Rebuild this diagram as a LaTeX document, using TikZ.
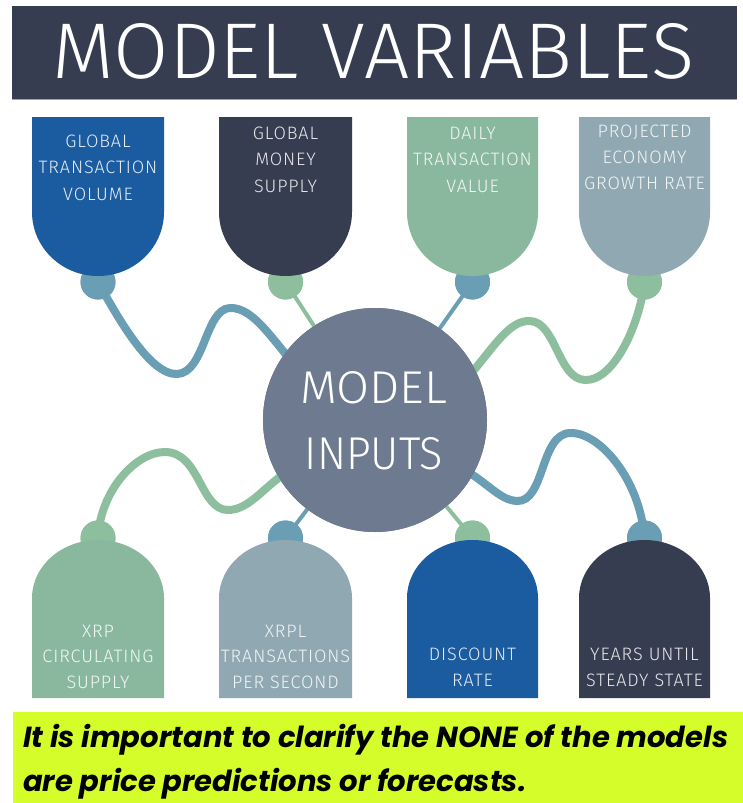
\documentclass[tikz,border=0pt]{standalone}
\usepackage{fontspec}
\usepackage{graphicx}
\setmainfont{Fira Sans}
\newfontfamily\lightfont{Fira Sans Light}
\newfontfamily\boxfont{Fira Sans Light}[LetterSpace=5]
\newfontfamily\popfont{Poppins}
\definecolor{navy}{HTML}{363D50}
\definecolor{dblue}{HTML}{1B5B9F}
\definecolor{sage}{HTML}{8AB89E}
\definecolor{slate}{HTML}{8FA8B2}
\definecolor{circ}{HTML}{6D7A8F}
\definecolor{teal}{HTML}{6A9EB4}
\definecolor{lgreen}{HTML}{8DBF9F}
\definecolor{lime}{HTML}{D4FD2A}
\definecolor{rule}{HTML}{9AA3B0}
\newsavebox\noteone
\begin{document}
\sbox\noteone{\popfont\bfseries\itshape It is important to clarify the NONE of the models}%
\begin{tikzpicture}[x=1pt,y=-1pt,
  knob/.style={circle,inner sep=0pt,minimum size=35pt,fill=#1},
  wave/.style={draw=#1,line width=8pt,line cap=round},
  stick/.style={draw=#1,line width=4pt,line cap=round},
  btxt/.style={anchor=base,inner sep=0pt,text=white!88!#1,font=\boxfont\fontsize{18}{20}\selectfont}]
\useasboundingbox (0,0) rectangle (743,803);
\fill[white] (0,0) rectangle (743,803);
% title bar
\node[fill=navy,anchor=north west,minimum width=725pt,minimum height=93pt,inner sep=0pt] (bar) at (12,6) {};
\draw[rule,line width=1.5pt] (bar.south west) -- (bar.south east);
\node[inner sep=0pt,text=white] (title) at (373.5,51.5) {\resizebox{641pt}{55pt}{\lightfont MODEL VARIABLES}};
% centre node
\node[circle,fill=circ,minimum size=224pt,inner sep=0pt] (mi) at (375,420) {};
% knobs
\node[knob=teal]   (k1) at (98,282) {};
\node[knob=lgreen] (k2) at (285.5,282) {};
\node[knob=teal]   (k3) at (472.5,282) {};
\node[knob=lgreen] (k4) at (644.5,282) {};
\node[knob=lgreen] (k5) at (98,538) {};
\node[knob=teal]   (k6) at (285.5,538) {};
\node[knob=lgreen] (k7) at (472.5,538) {};
\node[knob=teal]   (k8) at (644.5,538) {};
% connectors
\draw[wave=teal] (k1.center) .. controls (118,318) and (150,375) .. (177,374)
  .. controls (205,373) and (205,309) .. (230,308)
  .. controls (255,307) and (275,345) .. (300,370) -- (mi.center);
\draw[stick=lgreen] (k2.center) -- (mi.center);
\draw[stick=teal] (k3.center) -- (mi.center);
\draw[wave=lgreen] (k4.center) .. controls (640,322) and (615,381) .. (585,380)
  .. controls (558,379) and (556,322) .. (530,321)
  .. controls (510,320) and (495,345) .. (470,375) -- (mi.center);
\draw[wave=lgreen] (k5.center) .. controls (100,492) and (135,452) .. (165,452)
  .. controls (200,452) and (200,510) .. (228,510)
  .. controls (250,510) and (265,485) .. (290,470) -- (mi.center);
\draw[stick=teal] (k6.center) -- (mi.center);
\draw[stick=lgreen] (k7.center) -- (mi.center);
\draw[wave=teal] (k8.center) .. controls (640,480) and (600,432) .. (570,433)
  .. controls (540,434) and (545,502) .. (517,501)
  .. controls (500,500) and (490,485) .. (465,470) -- (mi.center);
% centre circle and knobs on top of connectors
\fill[circ] (mi.center) circle[radius=112];
\foreach \k/\c in {k1/teal,k2/lgreen,k3/teal,k4/lgreen,k5/lgreen,k6/teal,k7/lgreen,k8/teal}
  \fill[\c] (\k.center) circle[radius=17.5];
% top shields
\fill[dblue] (32,117) -- (164,117) -- (164,212) arc[start angle=0,end angle=180,x radius=66,y radius=64] -- cycle;
\fill[navy]  (219,117) -- (352,117) -- (352,212) arc[start angle=0,end angle=180,x radius=66.5,y radius=64] -- cycle;
\fill[sage]  (407,117) -- (538,117) -- (538,212) arc[start angle=0,end angle=180,x radius=65.5,y radius=64] -- cycle;
\fill[slate] (579,117) -- (710,117) -- (710,212) arc[start angle=0,end angle=180,x radius=65.5,y radius=64] -- cycle;
% bottom domes
\fill[sage]  (32,698) -- (32,598) arc[start angle=180,end angle=360,x radius=66,y radius=58] -- (164,698) -- cycle;
\fill[slate] (219,698) -- (219,598) arc[start angle=180,end angle=360,x radius=66.5,y radius=58] -- (352,698) -- cycle;
\fill[dblue] (407,698) -- (407,598) arc[start angle=180,end angle=360,x radius=65.5,y radius=58] -- (538,698) -- cycle;
\fill[navy]  (579,698) -- (579,598) arc[start angle=180,end angle=360,x radius=65.5,y radius=58] -- (710,698) -- cycle;
% centre text
\node[inner sep=0pt,text=white] (mt1) at (373.5,387.5) {\resizebox{147pt}{32pt}{\lightfont MODEL}};
\node[inner sep=0pt,text=white] (mt2) at (374,454) {\resizebox{138pt}{32pt}{\lightfont INPUTS}};
% box texts top
\node[btxt=dblue] (a1) at (98,147) {GLOBAL};
\node[btxt=dblue] (a2) at (98,173.5) {TRANSACTION};
\node[btxt=dblue] (a3) at (98,200) {VOLUME};
\node[btxt=navy] (b1) at (285.5,139) {GLOBAL};
\node[btxt=navy] (b2) at (285.5,165.5) {MONEY};
\node[btxt=navy] (b3) at (285.5,192) {SUPPLY};
\node[btxt=sage] (c1) at (472.5,139) {DAILY};
\node[btxt=sage] (c2) at (472.5,165.5) {TRANSACTION};
\node[btxt=sage] (c3) at (472.5,192) {VALUE};
\node[btxt=slate] (d1) at (644.5,137) {PROJECTED};
\node[btxt=slate] (d2) at (644.5,163) {ECONOMY};
\node[btxt=slate] (d3) at (644.5,189) {GROWTH RATE};
% box texts bottom
\node[btxt=sage] (e1) at (98,637) {XRP};
\node[btxt=sage] (e2) at (98,662.5) {CIRCULATING};
\node[btxt=sage] (e3) at (98,688) {SUPPLY};
\node[btxt=slate] (f1) at (285.5,637) {XRPL};
\node[btxt=slate] (f2) at (285.5,662.5) {TRANSACTIONS};
\node[btxt=slate] (f3) at (285.5,688) {PER SECOND};
\node[btxt=dblue] (g1) at (472.5,660) {DISCOUNT};
\node[btxt=dblue] (g2) at (472.5,686) {RATE};
\node[btxt=navy] (h1) at (644.5,660) {YEARS UNTIL};
\node[btxt=navy] (h2) at (644.5,686) {STEADY STATE};
% note
\node[fill=lime,anchor=north west,minimum width=730pt,minimum height=91pt,inner sep=0pt] (note) at (13,712) {};
\node[anchor=base west,inner sep=0pt] (n1) at (23,747) {\resizebox{705pt}{!}{\usebox\noteone}};
\node[anchor=base west,inner sep=0pt] (n2) at (23,791) {\resizebox{705pt}{!}{\makebox[\wd\noteone][l]{\popfont\bfseries\itshape are price predictions or forecasts.}}};
\end{tikzpicture}
\end{document}
